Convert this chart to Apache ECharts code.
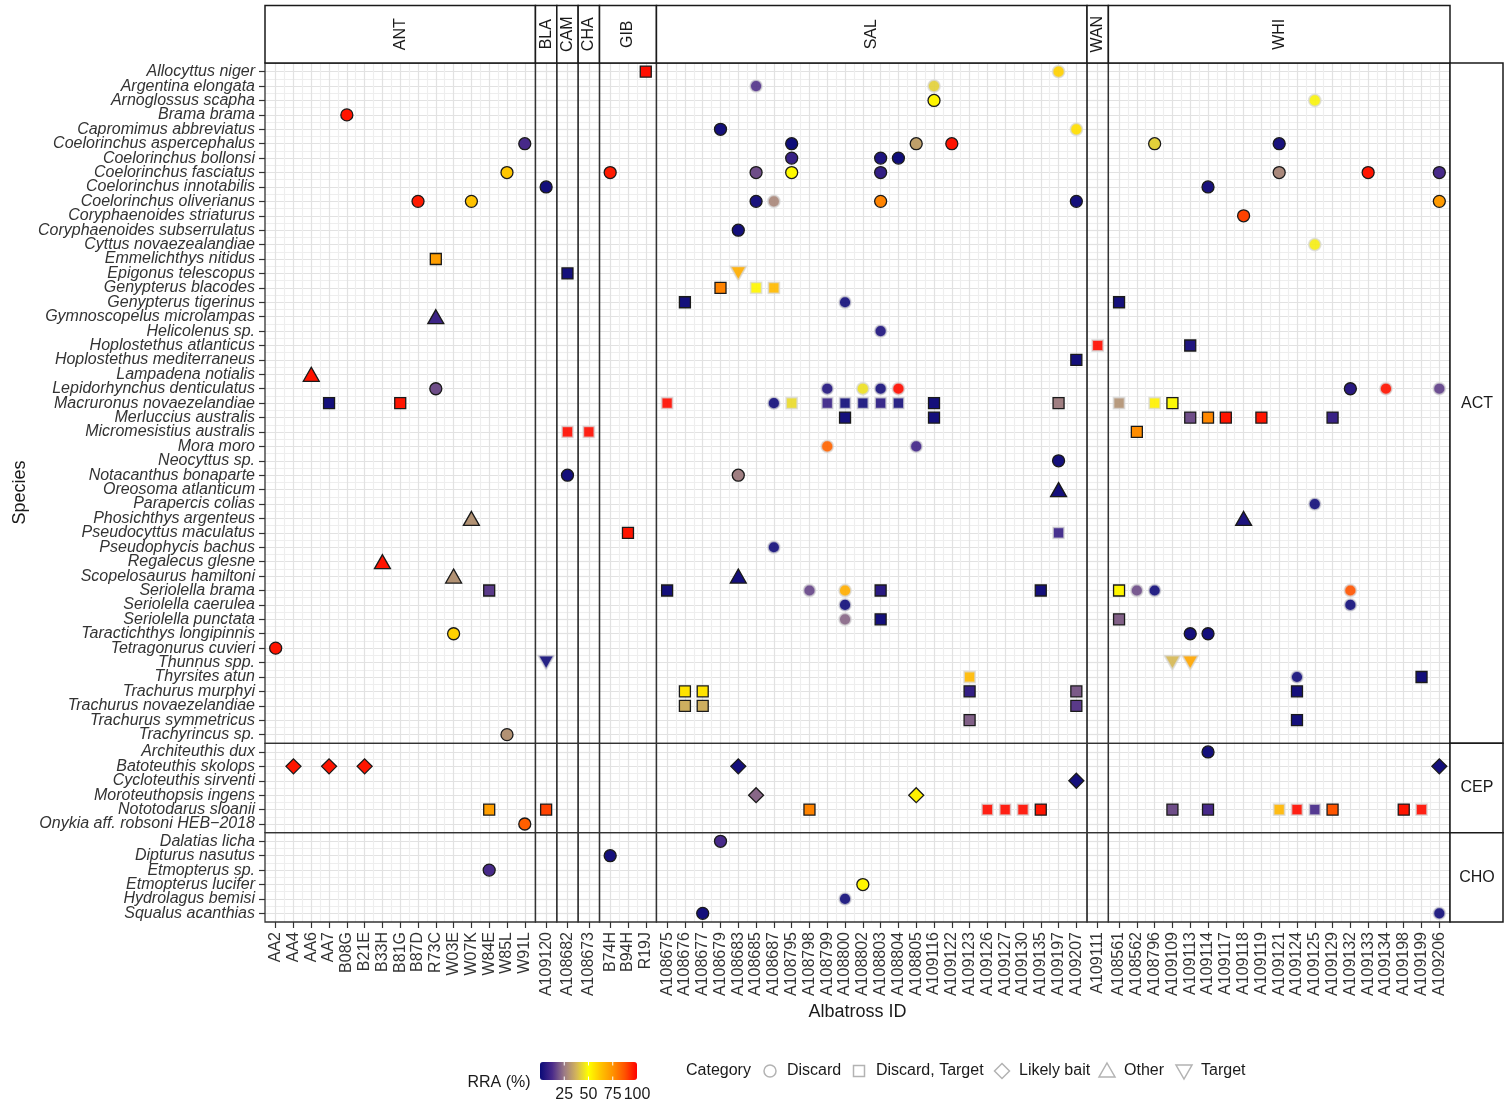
<!DOCTYPE html>
<html><head><meta charset="utf-8">
<script src="https://cdn.jsdelivr.net/npm/echarts@6/dist/echarts.min.js"></script>
<style>html,body{margin:0;padding:0;background:#fff}#chart{width:1505px;height:1107px}</style>
</head><body><div id="chart"></div>
<script>
// ---------------- DATA ----------------
const regions = ['ANT','BLA','CAM','CHA','GIB','SAL','WAN','WHI'];
const idsANT = ['AA2','AA4','AA6','AA7','B08G','B21E','B33H','B81G','B87D','R73C','W03E','W07K','W84E','W85L','W91L'];
const idsBLA = ['A109120'];
const idsCAM = ['A108682'];
const idsCHA = ['A108673'];
const idsGIB = ['B74H','B94H','R19J'];
const idsSAL = ['A108675','A108676','A108677','A108679','A108683','A108685','A108687','A108795','A108798','A108799','A108800','A108802','A108803','A108804','A108805','A109116','A109122','A109123','A109126','A109127','A109130','A109135','A109197','A109207'];
const idsWAN = ['A109111'];
const idsWHI = ['A108561','A108562','A108796','A109109','A109113','A109114','A109117','A109118','A109119','A109121','A109124','A109125','A109129','A109132','A109133','A109134','A109198','A109199','A109206'];
const regionIds = [idsANT, idsBLA, idsCAM, idsCHA, idsGIB, idsSAL, idsWAN, idsWHI];

const groups = ['ACT','CEP','CHO'];
const speciesACT = ['Allocyttus niger','Argentina elongata','Arnoglossus scapha','Brama brama','Capromimus abbreviatus','Coelorinchus aspercephalus','Coelorinchus bollonsi','Coelorinchus fasciatus','Coelorinchus innotabilis','Coelorinchus oliverianus','Coryphaenoides striaturus','Coryphaenoides subserrulatus','Cyttus novaezealandiae','Emmelichthys nitidus','Epigonus telescopus','Genypterus blacodes','Genypterus tigerinus','Gymnoscopelus microlampas','Helicolenus sp.','Hoplostethus atlanticus','Hoplostethus mediterraneus','Lampadena notialis','Lepidorhynchus denticulatus','Macruronus novaezelandiae','Merluccius australis','Micromesistius australis','Mora moro','Neocyttus sp.','Notacanthus bonaparte','Oreosoma atlanticum','Parapercis colias','Phosichthys argenteus','Pseudocyttus maculatus','Pseudophycis bachus','Regalecus glesne','Scopelosaurus hamiltoni','Seriolella brama','Seriolella caerulea','Seriolella punctata','Taractichthys longipinnis','Tetragonurus cuvieri','Thunnus spp.','Thyrsites atun','Trachurus murphyi','Trachurus novaezelandiae','Trachurus symmetricus','Trachyrincus sp.'];
const speciesCEP = ['Architeuthis dux','Batoteuthis skolops','Cycloteuthis sirventi','Moroteuthopsis ingens','Nototodarus sloanii','Onykia aff. robsoni HEB\u22122018'];
const speciesCHO = ['Dalatias licha','Dipturus nasutus','Etmopterus sp.','Etmopterus lucifer','Hydrolagus bemisi','Squalus acanthias'];
const groupSpecies = [speciesACT, speciesCEP, speciesCHO];

const categories = ['Discard','Discard, Target','Likely bait','Other','Target'];
const rraTicks = [25, 50, 75, 100];

const D = 'Discard', DT = 'Discard, Target', LB = 'Likely bait', O = 'Other', T = 'Target';
// [species, albatross ID, category, RRA (%), outlined]
const observations = [
 ['Allocyttus niger','R19J',DT,98,1],['Allocyttus niger','A109197',D,60,0],
 ['Argentina elongata','A108685',D,14,0],['Argentina elongata','A109116',D,42,0],
 ['Arnoglossus scapha','A109116',D,52,1],['Arnoglossus scapha','A109125',D,48,0],
 ['Brama brama','B08G',D,97,1],
 ['Capromimus abbreviatus','A108679',D,2,1],['Capromimus abbreviatus','A109207',D,57,0],
 ['Coelorinchus aspercephalus','W91L',D,12,1],['Coelorinchus aspercephalus','A108795',D,1,1],['Coelorinchus aspercephalus','A108805',D,33,1],['Coelorinchus aspercephalus','A109122',D,97,1],['Coelorinchus aspercephalus','A108796',D,42,1],['Coelorinchus aspercephalus','A109121',D,3,1],
 ['Coelorinchus bollonsi','A108795',D,9,1],['Coelorinchus bollonsi','A108803',D,4,1],['Coelorinchus bollonsi','A108804',D,1,1],
 ['Coelorinchus fasciatus','W85L',D,62,1],['Coelorinchus fasciatus','B74H',D,96,1],['Coelorinchus fasciatus','A108685',D,18,1],['Coelorinchus fasciatus','A108795',D,51,1],['Coelorinchus fasciatus','A108803',D,8,1],['Coelorinchus fasciatus','A109121',D,28,1],['Coelorinchus fasciatus','A109133',D,97,1],['Coelorinchus fasciatus','A109206',D,12,1],
 ['Coelorinchus innotabilis','A109120',D,2,1],['Coelorinchus innotabilis','A109114',D,3,1],
 ['Coelorinchus oliverianus','B87D',D,96,1],['Coelorinchus oliverianus','W07K',D,63,1],['Coelorinchus oliverianus','A108685',D,3,1],['Coelorinchus oliverianus','A108687',D,28,0],['Coelorinchus oliverianus','A108803',D,78,1],['Coelorinchus oliverianus','A109207',D,2,1],['Coelorinchus oliverianus','A109206',D,73,1],
 ['Coryphaenoides striaturus','A109118',D,90,1],
 ['Coryphaenoides subserrulatus','A108683',D,2,1],
 ['Cyttus novaezealandiae','A109125',D,47,0],
 ['Emmelichthys nitidus','R73C',DT,72,1],
 ['Epigonus telescopus','A108682',DT,2,1],['Epigonus telescopus','A108683',T,68,0],
 ['Genypterus blacodes','A108679',DT,78,1],['Genypterus blacodes','A108685',DT,52,0],['Genypterus blacodes','A108687',DT,65,0],
 ['Genypterus tigerinus','A108676',DT,2,1],['Genypterus tigerinus','A108800',D,2,0],['Genypterus tigerinus','A108561',DT,2,1],
 ['Gymnoscopelus microlampas','R73C',O,10,1],
 ['Helicolenus sp.','A108803',D,4,0],
 ['Hoplostethus atlanticus','A109111',DT,98,0],['Hoplostethus atlanticus','A109113',DT,4,1],
 ['Hoplostethus mediterraneus','A109207',DT,2,1],
 ['Lampadena notialis','AA6',O,97,1],
 ['Lepidorhynchus denticulatus','R73C',D,18,1],['Lepidorhynchus denticulatus','A108799',D,5,0],['Lepidorhynchus denticulatus','A108802',D,45,0],['Lepidorhynchus denticulatus','A108803',D,3,0],['Lepidorhynchus denticulatus','A108804',D,98,0],['Lepidorhynchus denticulatus','A109132',D,6,1],['Lepidorhynchus denticulatus','A109134',D,97,0],['Lepidorhynchus denticulatus','A109206',D,16,0],
 ['Macruronus novaezelandiae','AA7',DT,2,1],['Macruronus novaezelandiae','B81G',DT,97,1],['Macruronus novaezelandiae','A108675',DT,98,0],['Macruronus novaezelandiae','A108687',D,2,0],['Macruronus novaezelandiae','A108795',DT,44,0],['Macruronus novaezelandiae','A108799',DT,9,0],['Macruronus novaezelandiae','A108800',DT,2,0],['Macruronus novaezelandiae','A108802',DT,2,0],['Macruronus novaezelandiae','A108803',DT,6,0],['Macruronus novaezelandiae','A108804',DT,3,0],['Macruronus novaezelandiae','A109116',DT,2,1],['Macruronus novaezelandiae','A109197',DT,26,1],['Macruronus novaezelandiae','A108561',DT,30,0],['Macruronus novaezelandiae','A108796',DT,53,0],['Macruronus novaezelandiae','A109109',DT,49,1],
 ['Merluccius australis','A108800',DT,2,1],['Merluccius australis','A109116',DT,2,1],['Merluccius australis','A109113',DT,18,1],['Merluccius australis','A109114',DT,77,1],['Merluccius australis','A109117',DT,97,1],['Merluccius australis','A109119',DT,97,1],['Merluccius australis','A109129',DT,9,1],
 ['Micromesistius australis','A108682',DT,98,0],['Micromesistius australis','A108673',DT,98,0],['Micromesistius australis','A108562',DT,76,1],
 ['Mora moro','A108799',D,84,0],['Mora moro','A108805',D,11,0],
 ['Neocyttus sp.','A109197',D,2,1],
 ['Notacanthus bonaparte','A108682',D,2,1],['Notacanthus bonaparte','A108683',D,26,1],
 ['Oreosoma atlanticum','A109197',O,2,1],
 ['Parapercis colias','A109125',D,2,0],
 ['Phosichthys argenteus','W07K',O,30,1],['Phosichthys argenteus','A109118',O,4,1],
 ['Pseudocyttus maculatus','B94H',DT,97,1],['Pseudocyttus maculatus','A109197',DT,9,0],
 ['Pseudophycis bachus','A108687',D,2,0],
 ['Regalecus glesne','B33H',O,97,1],
 ['Scopelosaurus hamiltoni','W03E',O,30,1],['Scopelosaurus hamiltoni','A108683',O,2,1],
 ['Seriolella brama','W84E',DT,15,1],['Seriolella brama','A108675',DT,2,1],['Seriolella brama','A108798',D,17,0],['Seriolella brama','A108800',D,68,0],['Seriolella brama','A108803',DT,6,1],['Seriolella brama','A109135',DT,2,1],['Seriolella brama','A108561',DT,52,1],['Seriolella brama','A108562',D,18,0],['Seriolella brama','A108796',D,2,0],['Seriolella brama','A109132',D,87,0],
 ['Seriolella caerulea','A108800',D,2,0],['Seriolella caerulea','A109132',D,2,0],
 ['Seriolella punctata','A108800',D,22,0],['Seriolella punctata','A108803',DT,2,1],['Seriolella punctata','A108561',DT,21,1],
 ['Taractichthys longipinnis','W03E',D,60,1],['Taractichthys longipinnis','A109113',D,2,1],['Taractichthys longipinnis','A109114',D,2,1],
 ['Tetragonurus cuvieri','AA2',D,97,1],
 ['Thunnus spp.','A109120',T,2,0],['Thunnus spp.','A109109',T,38,0],['Thunnus spp.','A109113',T,70,0],
 ['Thyrsites atun','A109123',DT,65,0],['Thyrsites atun','A109124',D,2,0],['Thyrsites atun','A109199',DT,2,1],
 ['Trachurus murphyi','A108676',DT,56,1],['Trachurus murphyi','A108677',DT,56,1],['Trachurus murphyi','A109123',DT,8,1],['Trachurus murphyi','A109207',DT,20,1],['Trachurus murphyi','A109124',DT,2,1],
 ['Trachurus novaezelandiae','A108676',DT,36,1],['Trachurus novaezelandiae','A108677',DT,36,1],['Trachurus novaezelandiae','A109207',DT,15,1],
 ['Trachurus symmetricus','A109123',DT,21,1],['Trachurus symmetricus','A109124',DT,2,1],
 ['Trachyrincus sp.','W85L',D,30,1],
 ['Architeuthis dux','A109114',D,2,1],
 ['Batoteuthis skolops','AA4',LB,97,1],['Batoteuthis skolops','AA7',LB,97,1],['Batoteuthis skolops','B21E',LB,97,1],['Batoteuthis skolops','A108683',LB,2,1],['Batoteuthis skolops','A109206',LB,2,1],
 ['Cycloteuthis sirventi','A109207',LB,2,1],
 ['Moroteuthopsis ingens','A108685',LB,22,1],['Moroteuthopsis ingens','A108805',LB,53,1],
 ['Nototodarus sloanii','W84E',DT,72,1],['Nototodarus sloanii','A109120',DT,90,1],['Nototodarus sloanii','A108798',DT,78,1],['Nototodarus sloanii','A109126',DT,98,0],['Nototodarus sloanii','A109127',DT,98,0],['Nototodarus sloanii','A109130',DT,98,0],['Nototodarus sloanii','A109135',DT,97,1],['Nototodarus sloanii','A109109',DT,18,1],['Nototodarus sloanii','A109114',DT,12,1],['Nototodarus sloanii','A109121',DT,66,0],['Nototodarus sloanii','A109124',DT,98,0],['Nototodarus sloanii','A109125',DT,12,0],['Nototodarus sloanii','A109129',DT,87,1],['Nototodarus sloanii','A109198',DT,97,1],['Nototodarus sloanii','A109199',DT,98,0],
 ['Onykia aff. robsoni HEB\u22122018','W91L',D,85,1],
 ['Dalatias licha','A108679',D,12,1],
 ['Dipturus nasutus','B74H',D,2,1],
 ['Etmopterus sp.','W84E',D,12,1],
 ['Etmopterus lucifer','A108802',D,52,1],
 ['Hydrolagus bemisi','A108800',D,2,0],
 ['Squalus acanthias','A108677',D,2,1],['Squalus acanthias','A109206',D,2,0]
];

// ---------------- STYLE / LAYOUT ----------------
const FONT = '"Liberation Sans", Arial, Helvetica, sans-serif';
const rraColors = ['#0a0a78','#4a2a8a','#9b7a86','#d4b55a','#ffff00','#ffc400','#ff9200','#ff5200','#ff0000'];
const INV_TRI = 'path://M0,0 L10,0 L5,8.66 Z';
const shapeOf = {
  'Discard': {symbol: 'circle', size: 12},
  'Discard, Target': {symbol: 'rect', size: 11},
  'Likely bait': {symbol: 'diamond', size: 15},
  'Other': {symbol: 'triangle', size: [16, 14]},
  'Target': {symbol: INV_TRI, size: [16, 14]}
};
const PL = 265, PR = 1450, PT = 63, PB = 922;
const xUnit = (PR - PL) / regionIds.reduce((s, a) => s + a.length + 0.2, 0);
const yUnit = (PB - PT) / groupSpecies.reduce((s, a) => s + a.length + 0.2, 0);
const colPos = []; { let acc = PL; regionIds.forEach(a => { const w = (a.length + 0.2) * xUnit; colPos.push([acc, w]); acc += w; }); }
const rowPos = []; { let acc = PT; groupSpecies.forEach(a => { const h = (a.length + 0.2) * yUnit; rowPos.push([acc, h]); acc += h; }); }

const grids = [], xAxes = [], yAxes = [], series = [], graphics = [];
const range = n => Array.from({length: n}, (_, i) => i);
const halves = n => Array.from({length: 2 * n - 1}, (_, i) => i / 2);
const noLine = {show: false, onZero: false};
const noTick = vals => ({show: false, length: 0, customValues: vals, lineStyle: {width: 0, color: 'rgba(0,0,0,0)'}});
const gridLineStyle = {color: ['#e2e2e2', '#eeeeee'], width: 1.2};
const darkTick = vals => ({show: true, customValues: vals, length: 6, lineStyle: {color: '#333', width: 1.2}});

groups.forEach((grp, r) => {
  regionIds.forEach((ids, c) => {
    const g = grids.length;
    const sp = groupSpecies[r];
    grids.push({left: colPos[c][0], top: rowPos[r][0], width: colPos[c][1], height: rowPos[r][1],
      show: false, outerBoundsMode: 'none'});
    // panel border drawn above the grid lines
    graphics.push({type: 'rect', z: 50, silent: true,
      shape: {x: colPos[c][0], y: rowPos[r][0], width: colPos[c][1], height: rowPos[r][1]},
      style: {fill: 'none', stroke: '#333', lineWidth: 1.3}});
    const bottom = r === groups.length - 1, left = c === 0;
    const yBase = {gridIndex: g, type: 'value', inverse: true, min: -0.6, max: sp.length - 0.4, position: 'left',
      axisLine: noLine, splitLine: {show: false}};
    const yLabel = vals => ({show: left, customValues: vals, formatter: v => sp[Math.round(v)] || '',
      showMinLabel: true, showMaxLabel: true, hideOverlap: false,
      fontSize: 16, fontStyle: 'italic', color: '#333', margin: 10, fontFamily: FONT});
    const evens = range(sp.length).filter(i => i % 2 === 0), odds = range(sp.length).filter(i => i % 2 === 1);
    // x: label axis (2g) and grid-line axis (2g+1)
    xAxes.push({gridIndex: g, type: 'value', min: -0.6, max: ids.length - 0.4, position: 'bottom',
      axisLine: noLine, splitLine: {show: false},
      axisTick: bottom ? darkTick(range(ids.length)) : noTick(range(ids.length)),
      axisLabel: {show: bottom, customValues: range(ids.length), formatter: v => ids[Math.round(v)] || '',
        showMinLabel: true, showMaxLabel: true, hideOverlap: false,
        rotate: 90, fontSize: 16, color: '#333', margin: 10, fontFamily: FONT}});
    xAxes.push({gridIndex: g, type: 'value', min: -0.6, max: ids.length - 0.4, position: 'top',
      axisLine: noLine, axisTick: noTick(halves(ids.length)),
      axisLabel: {show: false, customValues: halves(ids.length)},
      splitLine: {show: true, customValues: halves(ids.length), lineStyle: gridLineStyle}});
    // y: even-label axis (3g), odd-label axis (3g+1), grid-line axis (3g+2)
    yAxes.push(Object.assign({}, yBase, {
      axisTick: left ? darkTick(range(sp.length)) : noTick(range(sp.length)), axisLabel: yLabel(evens)}));
    yAxes.push(Object.assign({}, yBase, {
      axisTick: noTick(odds.length ? odds : [0]), axisLabel: yLabel(odds.length ? odds : [])}));
    yAxes.push({gridIndex: g, type: 'value', inverse: true, min: -0.6, max: sp.length - 0.4, position: 'right',
      axisLine: noLine, axisTick: noTick(halves(sp.length)),
      axisLabel: {show: false, customValues: halves(sp.length)},
      splitLine: {show: true, customValues: halves(sp.length), lineStyle: gridLineStyle}});
    const pts = observations.filter(o => sp.includes(o[0]) && ids.includes(o[1]));
    if (pts.length) {
      series.push({type: 'scatter', xAxisIndex: 2 * g, yAxisIndex: 3 * g, z: 5,
        emphasis: {disabled: true}, silent: true,
        data: pts.map(o => ({
          value: [ids.indexOf(o[1]), sp.indexOf(o[0]), o[3]],
          symbol: shapeOf[o[2]].symbol, symbolSize: shapeOf[o[2]].size,
          itemStyle: o[4] ? {opacity: 1, borderColor: '#1a1a1a', borderWidth: 1.3}
                          : {opacity: 0.92, borderColor: 'rgba(215,215,215,0.8)', borderWidth: 1.8}
        }))});
    }
  });
});

// strips, titles and legends
const txt = (text, x, y, size, extra) => Object.assign({type: 'text', x, y,
  style: {text, fill: '#1a1a1a', font: size + 'px ' + FONT, align: 'center', verticalAlign: 'middle'}}, extra || {});
regions.forEach((reg, c) => {
  graphics.push({type: 'rect', z: 50, shape: {x: colPos[c][0], y: 5.5, width: colPos[c][1], height: PT - 5.5},
    style: {fill: '#fff', stroke: '#1a1a1a', lineWidth: 1.5}});
  graphics.push(txt(reg, colPos[c][0] + colPos[c][1] / 2, (PT + 5.5) / 2, 16, {rotation: Math.PI / 2, z: 51}));
});
groups.forEach((grp, r) => {
  graphics.push({type: 'rect', z: 50, shape: {x: PR, y: rowPos[r][0], width: 53, height: rowPos[r][1]},
    style: {fill: '#fff', stroke: '#1a1a1a', lineWidth: 1.5}});
  graphics.push(txt(grp, PR + 27, rowPos[r][0] + rowPos[r][1] / 2, 16, {z: 51}));
});
graphics.push(txt('Species', 20, (PT + PB) / 2, 18, {rotation: Math.PI / 2}));
graphics.push(txt('Albatross ID', (PL + PR) / 2, 1012, 18));
// colourbar annotations
const CB_X = 540, CB_W = 97, CB_Y = 1062, CB_H = 18;
graphics.push(txt('RRA (%)', 499, 1083, 16));
rraTicks.forEach(t => {
  const x = CB_X + t / 100 * CB_W;
  graphics.push(txt(String(t), x, 1095, 16));
  if (t < 100) {
    graphics.push({type: 'line', shape: {x1: x, y1: CB_Y, x2: x, y2: CB_Y + 3.5}, style: {stroke: '#fff', lineWidth: 1}, z: 10});
    graphics.push({type: 'line', shape: {x1: x, y1: CB_Y + CB_H - 3.5, x2: x, y2: CB_Y + CB_H}, style: {stroke: '#fff', lineWidth: 1}, z: 10});
  }
});
// category legend
graphics.push({type: 'text', x: 686, y: 1071, style: {text: 'Category', fill: '#1a1a1a', font: '16px ' + FONT, align: 'left', verticalAlign: 'middle'}});
const legStroke = {fill: 'none', stroke: '#b3b3b3', lineWidth: 1.5};
const legX = [770, 859, 1002, 1107, 1184];
const legY = 1071;
const legShape = [
  x => ({type: 'circle', shape: {cx: x, cy: legY, r: 6}, style: legStroke}),
  x => ({type: 'rect', shape: {x: x - 5.5, y: legY - 5.5, width: 11, height: 11}, style: legStroke}),
  x => ({type: 'polygon', shape: {points: [[x, legY - 7.5], [x + 7.5, legY], [x, legY + 7.5], [x - 7.5, legY]]}, style: legStroke}),
  x => ({type: 'polygon', shape: {points: [[x, legY - 8], [x + 8, legY + 6], [x - 8, legY + 6]]}, style: legStroke}),
  x => ({type: 'polygon', shape: {points: [[x - 8, legY - 6], [x + 8, legY - 6], [x, legY + 8]]}, style: legStroke})
];
categories.forEach((cat, i) => {
  graphics.push(legShape[i](legX[i]));
  graphics.push({type: 'text', x: legX[i] + 17, y: legY,
    style: {text: cat, fill: '#1a1a1a', font: '16px ' + FONT, align: 'left', verticalAlign: 'middle'}});
});

const chart = echarts.init(document.getElementById('chart'), null, {renderer: 'canvas'});
chart.setOption({
  animation: false,
  backgroundColor: '#fff',
  textStyle: {fontFamily: FONT},
  grid: grids, xAxis: xAxes, yAxis: yAxes, series,
  visualMap: {type: 'continuous', min: 0, max: 100, dimension: 2,
    seriesIndex: series.map((_, i) => i), orient: 'horizontal',
    left: CB_X, top: CB_Y, itemWidth: CB_H, itemHeight: CB_W, padding: 0,
    calculable: false, hoverLink: false, text: null,
    inRange: {color: rraColors}},
  graphic: graphics
});
</script></body></html>
